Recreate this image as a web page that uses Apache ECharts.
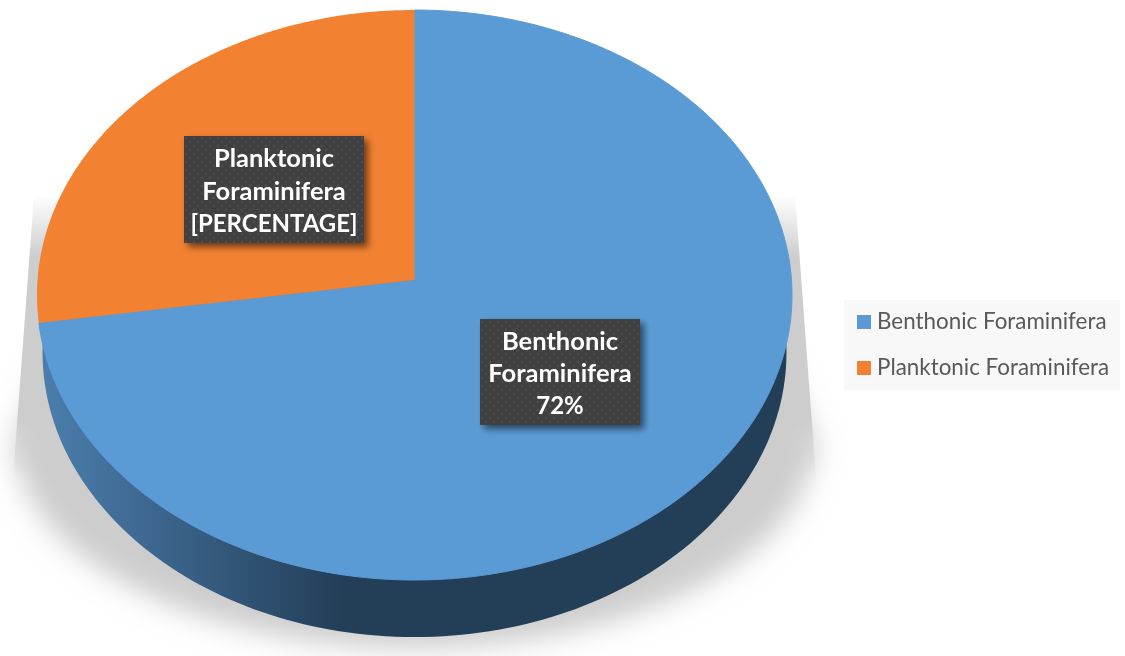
<!DOCTYPE html>
<html>
<head>
<meta charset="utf-8">
<style>html,body{margin:0;padding:0;background:#fff}#chart{width:1125px;height:656px}</style>
<script src="https://cdn.jsdelivr.net/npm/echarts@6/dist/echarts.min.js"></script>
</head>
<body>
<div id="chart"></div>
<script>
// Foraminifera assemblage shares, drawn as a tilted pie.
const categories = ['Benthonic Foraminifera', 'Planktonic Foraminifera'];
const values = [72, 28];
const labelLines = [
  ['Benthonic', 'Foraminifera', '72%'],
  ['Planktonic', 'Foraminifera', '[PERCENTAGE]']
];

const sliceColors = ['#5b9bd5', '#f28132'];
const labelCentres = [[560, 372], [274, 189.5]];
const labelSizes = [[160, 106], [180, 107]];

// Tilted disc geometry.
const disc = { cx: 414.5, cy: 295, rx: 377.5, ry: 285, hubY: 280, tilt: -0.0907 };
const wall = { cx: 414.5, cy: 352, rx: 372, ry: 285 };

// Rim point for a clockwise angle from 12 o'clock, foreshortened by the tilt.
function rimPoint(theta) {
  const u = Math.sin(theta), w = -Math.cos(theta), t = disc.tilt;
  const d = 1 + t * w;
  return [
    disc.cx + disc.rx * Math.sqrt(1 - t * t) * u / d,
    disc.cy + disc.ry * (w + t) / d
  ];
}

function sliceAngles(index) {
  const total = values.reduce((a, b) => a + b, 0);
  const before = values.slice(0, index).reduce((a, b) => a + b, 0);
  return [before / total * 2 * Math.PI, (before + values[index]) / total * 2 * Math.PI];
}

function slicePolygon(index) {
  const [a0, a1] = sliceAngles(index);
  const pts = [[disc.cx, disc.hubY]];
  const steps = Math.ceil((a1 - a0) / (Math.PI / 360));
  for (let i = 0; i <= steps; i++) pts.push(rimPoint(a0 + (a1 - a0) * i / steps));
  return pts;
}

// Blurred lower bowl of the cast shadow. The outline sits off canvas so only its blur shows.
const shadowShift = 3000;
function shadowBowl() {
  const c = [414.5, 440], r = [400, 208];
  const pts = [[c[0] - 340 - shadowShift, 300]];
  for (let i = 0; i <= 180; i++) {
    const a = Math.PI * i / 180;
    pts.push([c[0] - r[0] * Math.cos(a) - shadowShift, c[1] + r[1] * Math.sin(a)]);
  }
  pts.push([c[0] + 340 - shadowShift, 300]);
  return pts;
}

// Crisper slanted flanks of the cast shadow, fading out at top and bottom.
function shadowFlanks() {
  return {
    type: 'polygon', silent: true,
    shape: { points: [[34, 195], [13, 478], [816, 478], [795, 195]] },
    style: {
      fill: new echarts.graphic.LinearGradient(0, 195, 0, 478, [
        { offset: 0, color: 'rgba(205,205,205,0)' },
        { offset: 0.22, color: 'rgba(205,205,205,1)' },
        { offset: 0.8, color: 'rgba(205,205,205,1)' },
        { offset: 1, color: 'rgba(205,205,205,0)' }
      ], true)
    }
  };
}

// Faintly dotted tile used behind the data labels.
function dotTile() {
  const c = document.createElement('canvas');
  c.width = 8; c.height = 8;
  const g = c.getContext('2d');
  g.fillStyle = '#404040'; g.fillRect(0, 0, 8, 8);
  g.fillStyle = '#4b4b4b';
  g.beginPath(); g.arc(2, 2, 1.4, 0, 7); g.fill();
  g.beginPath(); g.arc(6, 6, 1.4, 0, 7); g.fill();
  return c;
}
const labelFill = { image: dotTile(), repeat: 'repeat' };

function renderSlice(params) {
  const i = params.seriesIndex;
  const children = [];
  if (i === 0) {
    children.push(shadowFlanks());
    children.push({
      type: 'polygon', shape: { points: shadowBowl() }, silent: true,
      style: {
        fill: '#cdcdcd', shadowBlur: 28, shadowColor: '#cdcdcd',
        shadowOffsetX: shadowShift
      }
    });
    children.push({
      type: 'ellipse', shape: wall, silent: true,
      style: {
        fill: new echarts.graphic.LinearGradient(40, 0, 790, 0, [
          { offset: 0, color: '#4b7fae' },
          { offset: 0.21, color: '#375d82' },
          { offset: 0.4, color: '#233f58' },
          { offset: 1, color: '#233f58' }
        ], true)
      }
    });
  }
  children.push({
    type: 'polygon', shape: { points: slicePolygon(i) },
    style: i === 0
      ? { fill: sliceColors[i], stroke: sliceColors[i], lineWidth: 1 }
      : { fill: sliceColors[i] }
  });
  const [cx, cy] = labelCentres[i], [w, h] = labelSizes[i];
  children.push({
    type: 'rect', shape: { x: cx - w / 2, y: cy - h / 2, width: w, height: h },
    style: {
      fill: labelFill, shadowBlur: 7, shadowOffsetX: 4, shadowOffsetY: 4,
      shadowColor: 'rgba(0,0,0,0.55)'
    }
  });
  labelLines[i].forEach((line, k) => {
    // Capitals and figures run wide in this face, so they are set a little smaller.
    const size = /[a-z]/.test(line) ? 25.5 : 24;
    children.push({
      type: 'text', x: cx, y: cy + 2 + (k - 1) * 32.3,
      style: {
        text: line, fill: '#ffffff', align: 'center', verticalAlign: 'middle',
        font: 'bold ' + size + 'px Lato'
      }
    });
  });
  return { type: 'group', children };
}

const chart = echarts.init(document.getElementById('chart'), null, { renderer: 'canvas' });
chart.setOption({
  animation: false,
  backgroundColor: '#ffffff',
  legend: {
    data: categories,
    orient: 'vertical',
    left: 844,
    top: 300,
    padding: [11, 11, 11, 13],
    itemGap: 24,
    itemWidth: 14,
    itemHeight: 14,
    icon: 'rect',
    selectedMode: false,
    backgroundColor: '#f8f8f8',
    textStyle: { color: '#595959', fontFamily: 'Lato', fontSize: 22.4, padding: [0, 0, 0, 1] }
  },
  tooltip: { show: false },
  series: categories.map((name, i) => ({
    type: 'custom',
    name,
    coordinateSystem: 'none',
    itemStyle: { color: sliceColors[i] },
    renderItem: renderSlice,
    data: [values[i]]
  }))
});
</script>
</body>
</html>
